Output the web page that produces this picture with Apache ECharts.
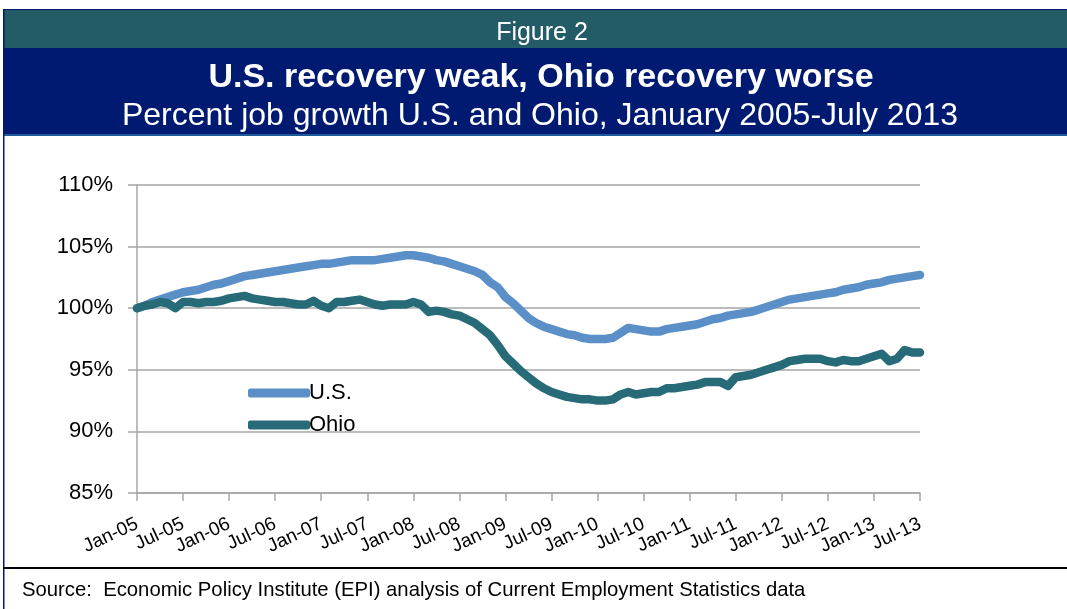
<!DOCTYPE html>
<html>
<head>
<meta charset="utf-8">
<style>
  html, body { margin: 0; padding: 0; background: #fff; }
  #chart { width: 1067px; height: 609px; }
</style>
<script src="https://cdn.jsdelivr.net/npm/echarts@6/dist/echarts.min.js"></script>
</head>
<body>
<div id="chart"></div>
<script>
  // monthly index, Jan 2005 = 100, Jan-05 .. Jul-13
  var usValues = [
    100.0, 100.2, 100.5, 100.7, 100.9, 101.1, 101.3, 101.4, 101.5, 101.7, 101.9, 102.0,
    102.2, 102.4, 102.6, 102.7, 102.8, 102.9, 103.0, 103.1, 103.2, 103.3, 103.4, 103.5,
    103.6, 103.6, 103.7, 103.8, 103.9, 103.9, 103.9, 103.9, 104.0, 104.1, 104.2, 104.3,
    104.3, 104.2, 104.1, 103.9, 103.8, 103.6, 103.4, 103.2, 103.0, 102.7, 102.1, 101.7,
    100.9, 100.4, 99.8, 99.2, 98.8, 98.5, 98.3, 98.1, 97.9, 97.8, 97.6, 97.5,
    97.5, 97.5, 97.6, 98.0, 98.4, 98.3, 98.2, 98.1, 98.1, 98.3, 98.4, 98.5,
    98.6, 98.7, 98.9, 99.1, 99.2, 99.4, 99.5, 99.6, 99.7, 99.9, 100.1, 100.3,
    100.5, 100.7, 100.8, 100.9, 101.0, 101.1, 101.2, 101.3, 101.5, 101.6, 101.7, 101.9,
    102.0, 102.1, 102.3, 102.4, 102.5, 102.6, 102.7
  ];
  var ohioValues = [
    100.0, 100.2, 100.3, 100.5, 100.4, 100.0, 100.5, 100.5, 100.4, 100.5, 100.5, 100.6,
    100.8, 100.9, 101.0, 100.8, 100.7, 100.6, 100.5, 100.5, 100.4, 100.3, 100.3, 100.6,
    100.2, 100.0, 100.5, 100.5, 100.6, 100.7, 100.5, 100.3, 100.2, 100.3, 100.3, 100.3,
    100.5, 100.3, 99.7, 99.8, 99.7, 99.5, 99.4, 99.1, 98.8, 98.3, 97.8, 97.0,
    96.1, 95.5, 94.9, 94.4, 93.9, 93.5, 93.2, 93.0, 92.8, 92.7, 92.6, 92.6,
    92.5, 92.5, 92.6, 93.0, 93.2, 93.0, 93.1, 93.2, 93.2, 93.5, 93.5, 93.6,
    93.7, 93.8, 94.0, 94.0, 94.0, 93.7, 94.4, 94.5, 94.6, 94.8, 95.0, 95.2,
    95.4, 95.7, 95.8, 95.9, 95.9, 95.9, 95.7, 95.6, 95.8, 95.7, 95.7, 95.9,
    96.1, 96.3, 95.7, 95.9, 96.6, 96.4, 96.4
  ];
  var monthNames = ["Jan", "Feb", "Mar", "Apr", "May", "Jun", "Jul", "Aug", "Sep", "Oct", "Nov", "Dec"];
  var yearLabels = ["05", "06", "07", "08", "09", "10", "11", "12", "13"];
  var yTicks = [85, 90, 95, 100, 105, 110];

  var months = [];
  yearLabels.forEach(function (yy) {
    monthNames.forEach(function (mm) {
      if (months.length < usValues.length) months.push(mm + "-" + yy);
    });
  });

  var navy = "#001a72";
  var teal = "#235b66";
  var gridColor = "#a6a6a6";
  var font = "Liberation Sans, Arial, sans-serif";

  var chart = echarts.init(document.getElementById("chart"));
  chart.setOption({
    animation: false,
    graphic: [
      { type: "rect", shape: { x: 3, y: 10, width: 1064, height: 38 }, style: { fill: teal } },
      { type: "rect", shape: { x: 3, y: 48, width: 1064, height: 86 }, style: { fill: navy } },
      { type: "rect", shape: { x: 3, y: 134, width: 1064, height: 2 }, style: { fill: "#1d5a9c" } },
      { type: "rect", shape: { x: 3, y: 9, width: 1064, height: 1 }, style: { fill: navy } },
      { type: "rect", shape: { x: 3, y: 10, width: 1.5, height: 599 }, style: { fill: navy } },
      { type: "rect", shape: { x: 3, y: 567, width: 1064, height: 2 }, style: { fill: "#000" } },
      { type: "text", x: 542, y: 33, style: { text: "Figure 2", fill: "#fff", font: "25px " + font, align: "center", verticalAlign: "middle" } },
      { type: "text", x: 541, y: 78, style: { text: "U.S. recovery weak, Ohio recovery worse", fill: "#fff", font: "bold 34px " + font, align: "center", verticalAlign: "middle" } },
      { type: "text", x: 540, y: 116, style: { text: "Percent job growth U.S. and Ohio, January 2005-July 2013", fill: "#fff", font: "32px " + font, align: "center", verticalAlign: "middle" } },
      { type: "text", x: 22, y: 590, style: { text: "Source:  Economic Policy Institute (EPI) analysis of Current Employment Statistics data", fill: "#000", font: "20.3px " + font, align: "left", verticalAlign: "middle" } }
    ],
    legend: {
      orient: "vertical", left: 243, top: 377,
      icon: "roundRect", itemWidth: 62, itemHeight: 9, itemGap: 10,
      textStyle: { fontSize: 22, color: "#000", fontFamily: font, padding: [0, 0, 0, -6] },
      data: ["U.S.", "Ohio"]
    },
    grid: { left: 137, right: 147, top: 185, bottom: 116, outerBoundsMode: "none" },
    xAxis: {
      type: "category", boundaryGap: false, data: months,
      axisLine: { lineStyle: { color: gridColor, width: 1.5 } },
      axisTick: { interval: 5, length: 8, lineStyle: { color: gridColor, width: 1.5 } },
      axisLabel: { interval: 5, rotate: 25, fontSize: 19, color: "#000", fontFamily: font, margin: 30 }
    },
    yAxis: {
      type: "value", min: yTicks[0], max: yTicks[yTicks.length - 1], interval: 5,
      axisLine: { show: true, lineStyle: { color: gridColor, width: 1.5 } },
      axisTick: { show: true, length: 9, lineStyle: { color: gridColor, width: 1.5 } },
      axisLabel: { formatter: "{value}%", fontSize: 22, color: "#000", fontFamily: font, margin: 24 },
      splitLine: { lineStyle: { color: gridColor, width: 1.5 } }
    },
    series: [
      { name: "U.S.", type: "line", data: usValues, showSymbol: false, z: 3,
        lineStyle: { width: 8.5, color: "#5b8fc8", cap: "round", join: "round" }, itemStyle: { color: "#5b8fc8" } },
      { name: "Ohio", type: "line", data: ohioValues, showSymbol: false, z: 4,
        lineStyle: { width: 8.5, color: "#276b78", cap: "round", join: "round" }, itemStyle: { color: "#276b78" } }
    ]
  });
</script>
</body>
</html>
